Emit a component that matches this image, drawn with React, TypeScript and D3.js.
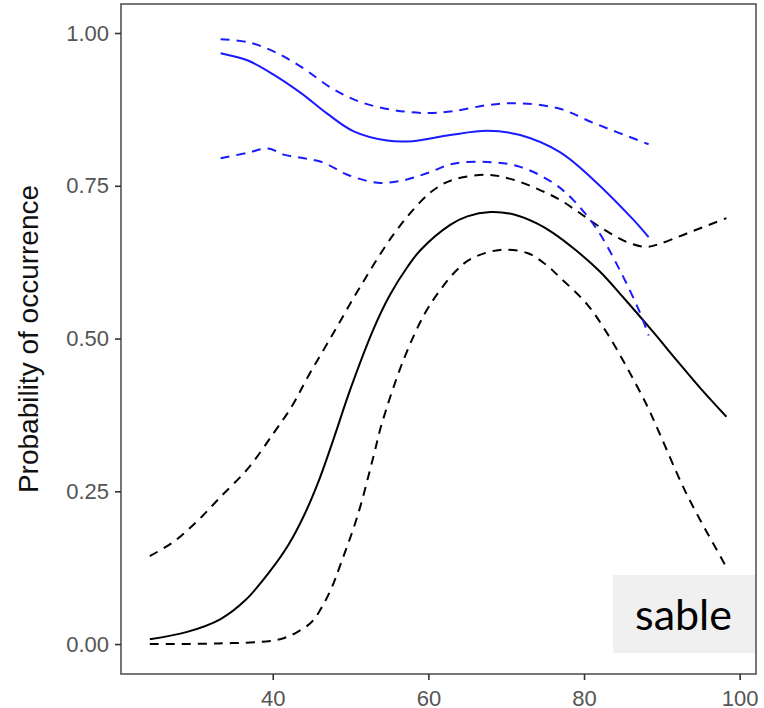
import React, { useRef, useEffect } from 'react';
import * as d3 from 'd3';

type Pt = [number, number];

// predicted probability of occurrence vs. covariate (sable panel)
const blackFit: Pt[] = [
	[24.2, 0.008], [29, 0.02], [33.3, 0.041], [36.5, 0.072], [39.7, 0.12], [42, 0.162],
	[44, 0.21], [46, 0.27], [47.8, 0.335], [50, 0.418], [53, 0.517], [55, 0.57],
	[57.3, 0.617], [59, 0.645], [62.8, 0.686], [65, 0.7], [68, 0.707], [71, 0.703],
	[74, 0.688], [76, 0.673], [79, 0.644], [82, 0.61], [85, 0.568], [88.8, 0.512],
	[92, 0.463], [95, 0.418], [98.3, 0.372],
];
const blackUpper: Pt[] = [
	[24.2, 0.144], [27, 0.165], [29.1, 0.187], [31, 0.21], [33.3, 0.241], [36.8, 0.287],
	[40.1, 0.345], [42.5, 0.39], [44.5, 0.437], [47.8, 0.509], [51.3, 0.586], [55.5, 0.67],
	[59, 0.724], [61, 0.746], [63.2, 0.76], [67.6, 0.768], [70.9, 0.76], [74, 0.745],
	[76.9, 0.727], [79.5, 0.705], [82, 0.683], [85.5, 0.658], [88, 0.65], [89.7, 0.655],
	[93.2, 0.672], [98.3, 0.697],
];
const blackLower: Pt[] = [
	[24.2, 0.0], [33, 0.001], [39.7, 0.005], [41.5, 0.01], [43.2, 0.02], [45, 0.036],
	[46.2, 0.058], [47.5, 0.09], [48.7, 0.13], [50.9, 0.21], [53, 0.31], [54, 0.36],
	[56.8, 0.465], [59.5, 0.54], [61.5, 0.579], [63.5, 0.61], [65.4, 0.63], [69.2, 0.645],
	[72.7, 0.64], [75, 0.622], [76.9, 0.6], [80.4, 0.556], [83, 0.508], [85.5, 0.453],
	[88.1, 0.39], [89.7, 0.345], [93.2, 0.245], [97.8, 0.137], [98.3, 0.125],
];
const blueFit: Pt[] = [
	[33.3, 0.967], [36.8, 0.955], [40.1, 0.932], [43.6, 0.902], [47, 0.868], [50.4, 0.839],
	[54.7, 0.824], [58, 0.823], [62.8, 0.833], [67.6, 0.84], [71.8, 0.833], [76.9, 0.805],
	[81.2, 0.76], [86.3, 0.695], [88.3, 0.666],
];
const blueUpper: Pt[] = [
	[33.3, 0.99], [36.8, 0.985], [40.1, 0.97], [43.6, 0.945], [47.8, 0.908], [51.3, 0.887],
	[55.5, 0.874], [59.9, 0.869], [63.2, 0.872], [67.6, 0.882], [71.8, 0.885], [76.9, 0.876],
	[81.2, 0.853], [88.3, 0.818],
];
const blueLower: Pt[] = [
	[33.3, 0.795], [36.8, 0.804], [39.4, 0.811], [41.4, 0.801], [44, 0.795], [46.5, 0.788],
	[49.6, 0.768], [53.5, 0.755], [56.8, 0.759], [59.9, 0.771], [63.2, 0.786], [67.6, 0.789],
	[71.8, 0.781], [76, 0.755], [78.6, 0.727], [81.7, 0.678], [84.6, 0.612], [87.2, 0.542],
	[88.3, 0.505],
];

const xTicks = [40, 60, 80, 100];
const yTicks = [0, 0.25, 0.5, 0.75, 1];
const yTitle = 'Probability of occurrence';
const panelLabel = 'sable';

const width = 764;
const height = 708;
const margin = { top: 4, right: 8, bottom: 34, left: 121 };

export default function App() {
	const ref = useRef<SVGSVGElement | null>(null);

	useEffect(() => {
		if (!ref.current) return;
		document.body.style.margin = '0';
		const svg = d3.select(ref.current);
		svg.selectAll('*').remove();

		const x = d3.scaleLinear().domain([20.5, 102.1]).range([margin.left, width - margin.right]);
		const y = d3.scaleLinear().domain([-0.049, 1.0475]).range([height - margin.bottom, margin.top]);

		svg.append('rect')
			.attr('width', width).attr('height', height).attr('fill', '#fff');

		const line = d3.line<Pt>()
			.x(d => x(d[0]))
			.y(d => y(d[1]))
			.curve(d3.curveCatmullRom.alpha(0.5));

		const series: { data: Pt[]; color: string; dash: string | null }[] = [
			{ data: blackUpper, color: '#000', dash: '9,7' },
			{ data: blackLower, color: '#000', dash: '9,7' },
			{ data: blackFit, color: '#000', dash: null },
			{ data: blueUpper, color: '#1a1aff', dash: '9,7' },
			{ data: blueLower, color: '#1a1aff', dash: '9,7' },
			{ data: blueFit, color: '#1a1aff', dash: null },
		];
		series.forEach(s => {
			svg.append('path')
				.datum(s.data)
				.attr('fill', 'none')
				.attr('stroke', s.color)
				.attr('stroke-width', 2)
				.attr('stroke-dasharray', s.dash)
				.attr('d', line);
		});

		// panel label box
		const boxX = 613;
		svg.append('rect')
			.attr('x', boxX).attr('y', 575)
			.attr('width', x.range()[1] - boxX).attr('height', 78)
			.attr('fill', '#f0f0f0');
		svg.append('text')
			.attr('x', (boxX + x.range()[1]) / 2 - 1).attr('y', 630)
			.attr('text-anchor', 'middle')
			.attr('font-family', 'Lato, "Open Sans", sans-serif')
			.attr('font-size', 43)
			.attr('fill', '#000')
			.text(panelLabel);

		// panel border
		svg.append('rect')
			.attr('x', margin.left).attr('y', margin.top)
			.attr('width', width - margin.right - margin.left)
			.attr('height', height - margin.bottom - margin.top)
			.attr('fill', 'none')
			.attr('stroke', '#555')
			.attr('stroke-width', 1.6);

		// Add the X Axis
		const gx = svg.append('g')
			.attr('transform', `translate(0, ${height - margin.bottom})`)
			.call(d3.axisBottom(x).tickValues(xTicks).tickSize(6).tickPadding(10).tickFormat(d3.format('d')));
		gx.select('.domain').remove();

		// Add the Y Axis
		const gy = svg.append('g')
			.attr('transform', `translate(${margin.left}, 0)`)
			.call(d3.axisLeft(y).tickValues(yTicks).tickSize(6).tickPadding(6).tickFormat(d3.format('.2f')));
		gy.select('.domain').remove();

		[gx, gy].forEach(g => {
			g.selectAll('line').attr('stroke', '#333').attr('stroke-width', 1.6);
			g.selectAll('text')
				.attr('fill', '#555')
				.style('font-size', '22px')
				.style('font-family', '"Liberation Sans", Arial, sans-serif');
		});

		svg.append('text')
			.attr('transform', `translate(38, ${(margin.top + height - margin.bottom) / 2}) rotate(-90)`)
			.attr('text-anchor', 'middle')
			.attr('font-family', '"Liberation Sans", Arial, sans-serif')
			.attr('font-size', 28)
			.attr('fill', '#111')
			.text(yTitle);
	}, []);

	return (
		<svg ref={ref} width={width} height={height}
			style={{ position: 'absolute', left: 0, top: 0, display: 'block' }} />
	);
}
